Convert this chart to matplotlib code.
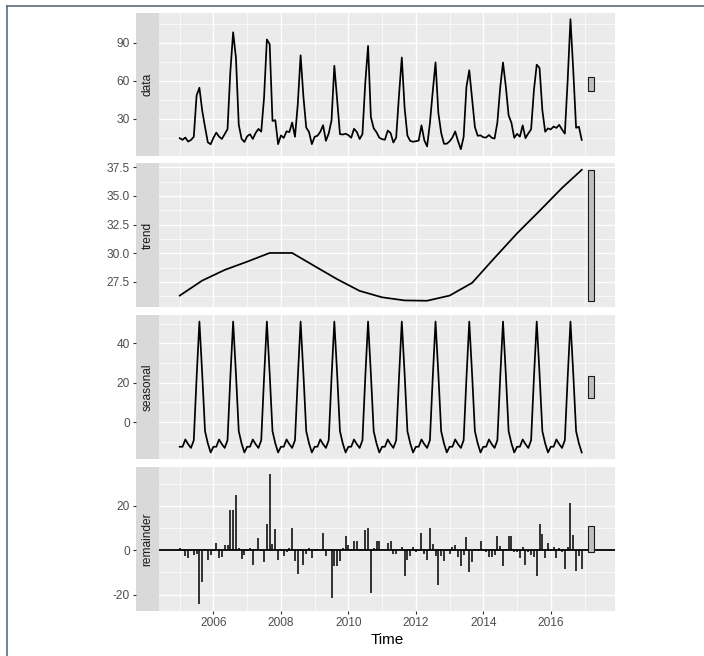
import matplotlib
matplotlib.use("Agg")
import matplotlib.pyplot as plt
import matplotlib.lines as mlines
import matplotlib.patches as mpatches
import numpy as np

# monthly series, Jan 2005 - Dec 2016
start_year = 2005
n_months = 144
time = start_year + np.arange(n_months) / 12

data_values = [
    14.8, 13.5, 15.3, 12.1, 13.4, 15.9, 48.5, 54.6, 36.5, 23.6, 11.5, 10.0,
    15.1, 19.2, 16.0, 14.2, 18.0, 21.9, 67.0, 98.4, 78.2, 25.4, 14.3, 11.8,
    16.3, 17.9, 14.2, 18.9, 22.1, 20.0, 46.8, 92.7, 89.0, 28.4, 29.0, 10.1,
    17.0, 15.0, 20.2, 19.6, 27.1, 15.9, 41.7, 80.2, 47.5, 23.2, 19.6, 10.1,
    15.9, 16.7, 19.8, 25.0, 12.7, 18.5, 28.8, 72.0, 45.2, 18.0, 17.7, 18.3,
    17.2, 15.1, 22.2, 19.7, 14.1, 18.0, 58.3, 87.6, 31.5, 22.6, 19.5, 15.2,
    14.0, 13.6, 20.8, 18.9, 11.4, 15.3, 48.5, 78.5, 38.6, 16.8, 12.6, 12.0,
    12.4, 12.9, 24.9, 13.2, 8.3, 26.7, 51.5, 74.6, 34.8, 19.0, 10.4, 10.4,
    12.3, 15.3, 20.1, 12.5, 6.1, 15.8, 55.4, 68.4, 46.4, 23.6, 16.7, 17.0,
    15.5, 15.3, 17.3, 15.1, 14.5, 27.2, 54.6, 74.5, 55.7, 32.8, 26.9, 15.1,
    18.2, 16.0, 24.9, 14.8, 18.6, 21.8, 52.7, 72.8, 70.2, 36.9, 19.9, 22.5,
    21.7, 24.0, 22.9, 25.3, 21.6, 18.4, 60.2, 108.7, 68.1, 23.0, 23.8, 13.4,
]

trend_times = [2005.0, 2005.667, 2006.333, 2007.0, 2007.667, 2008.333, 2009.0,
               2009.667, 2010.333, 2011.0, 2011.667, 2012.333, 2013.0, 2013.667,
               2014.333, 2015.0, 2015.667, 2016.333, 2016.917]
trend_values = [26.31, 27.62, 28.55, 29.27, 30.03, 30.03, 28.88,
                27.74, 26.72, 26.16, 25.89, 25.86, 26.31, 27.42,
                29.6, 31.74, 33.7, 35.7, 37.28]

# Jan..Dec seasonal effect, same every year
seasonal_pattern = [-12.5, -12.5, -8.8, -11.2, -13.1, -9.2, 22.5, 51.1, 24.5, -4.6, -10.8, -15.4]

remainder_values = [
    1.0, -0.5, -2.5, -3.5, -0.5, -2.0, -1.5, -24.3, -14.5, 0.5, -4.5, -2.0,
    -0.5, 3.5, -3.5, -3.0, 2.5, 2.5, 18.3, 18.0, 24.8, 1.0, -4.0, -2.0,
    -0.5, 1.0, -6.5, 0.5, 5.5, -0.5, -5.5, 11.7, 34.6, 3.0, 9.8, -4.5,
    -0.5, -2.5, -1.0, 0.8, 10.2, -4.8, -10.5, -0.5, -6.5, -1.5, 1.2, -3.5,
    -0.5, 0.5, 0.3, 7.7, -2.5, -0.5, -21.7, -7.0, -7.0, -5.0, 1.0, 6.3,
    2.5, 0.5, 4.0, 4.0, 0.5, 0.5, 9.2, 10.0, -19.4, 0.8, 4.0, 4.4,
    0.3, 0.0, 3.5, 4.0, -1.5, -1.5, 0.3, 1.5, -11.8, -4.5, -2.5, 1.5,
    -1.0, -0.5, 7.8, -1.5, -4.5, 10.0, 3.0, -2.5, -15.8, -2.5, -5.0, -0.5,
    -1.5, 1.3, 2.3, -3.0, -7.0, -2.0, 5.8, -10.0, -5.5, 0.5, -0.5, 4.2,
    -0.5, -1.0, -3.0, -3.0, -2.0, 6.5, 2.0, -7.0, 0.5, 6.5, 6.5, -1.0,
    -1.0, -3.5, 1.5, -6.5, -1.0, -2.0, -3.0, -11.8, 12.0, 7.5, -3.5, 3.5,
    -0.5, 1.5, -3.5, 1.0, -1.0, -8.3, 1.5, 21.5, 7.0, -9.2, -2.5, -8.5,
]

panel_names = ["data", "trend", "seasonal", "remainder"]
y_major = {
    "data": [30, 60, 90],
    "trend": [27.5, 30.0, 32.5, 35.0, 37.5],
    "seasonal": [0, 20, 40],
    "remainder": [-20, 0, 20],
}
y_minor = {
    "data": [15, 45, 75, 105],
    "trend": [26.25, 28.75, 31.25, 33.75, 36.25],
    "seasonal": [-10, 10, 30, 50],
    "remainder": [-10, 10, 30],
}
y_fmt = {"data": "{:.0f}", "trend": "{:.1f}", "seasonal": "{:.0f}", "remainder": "{:.0f}"}
x_major = [2006, 2008, 2010, 2012, 2014, 2016]
x_minor = [2005, 2007, 2009, 2011, 2013, 2015, 2017]

seasonal_values = np.tile(seasonal_pattern, n_months // 12)
series = {
    "data": (time, np.array(data_values)),
    "trend": (np.array(trend_times), np.array(trend_values)),
    "seasonal": (time, seasonal_values),
    "remainder": (time, np.array(remainder_values)),
}

# range bars, same length in every panel (shortest component range)
bar_len = min(np.ptp(v) for _, v in series.values())
bar_w = (time[-1] - time[0]) / 64
bar_left = time[-1] + bar_w
bar_right = time[-1] + 2 * bar_w
x_pad = 0.05 * (bar_right - time[0])
xlim = (time[0] - x_pad, bar_right + x_pad)

W, H = 704, 656
fig = plt.figure(figsize=(W / 100, H / 100), dpi=100)
plt.rcParams["font.family"] = ["Liberation Sans", "DejaVu Sans"]


def px_box(left, top, right, bottom):
    return [left / W, 1 - bottom / H, (right - left) / W, (bottom - top) / H]


panel_rows = [(12.7, 155.7), (163.3, 307.3), (315.0, 459.0), (467.0, 610.7)]
tick_len = 2.2
text_grey = "#4D4D4D"
small = 8.6

for k, name in enumerate(panel_names):
    top, bottom = panel_rows[k]
    ax = fig.add_axes(px_box(159, top, 615, bottom))
    strip = fig.add_axes(px_box(136, top, 159, bottom))
    x, y = series[name]

    ax.set_facecolor("#EBEBEB")
    for s in ax.spines.values():
        s.set_visible(False)
    for s in strip.spines.values():
        s.set_visible(False)

    if name == "remainder":
        ax.vlines(x, 0, y, color="black", linewidth=1.1)
        ax.axhline(0, color="black", linewidth=1.3)
    else:
        ax.plot(x, y, color="black", linewidth=1.25)

    mid = (y.max() + y.min()) / 2
    ax.add_patch(mpatches.Rectangle((bar_left, mid - bar_len / 2), bar_right - bar_left, bar_len,
                                    facecolor="#BFBFBF", edgecolor="#1A1A1A", linewidth=0.8, zorder=3))

    y_pad = 0.05 * np.ptp(y)
    ylim = (y.min() - y_pad, y.max() + y_pad)
    ax.set_xlim(xlim)
    ax.set_ylim(ylim)
    ax.set_xticks(x_major)
    ax.set_xticks(x_minor, minor=True)
    ax.set_yticks(y_major[name])
    ax.set_yticks(y_minor[name], minor=True)
    ax.grid(True, which="major", color="white", linewidth=1.0)
    ax.grid(True, which="minor", color="white", linewidth=0.5)
    ax.set_axisbelow(True)
    ax.tick_params(which="both", left=False, labelleft=False)
    if k == len(panel_names) - 1:
        ax.tick_params(axis="x", which="major", length=tick_len, width=0.8, color="#333333",
                       labelcolor=text_grey, labelsize=small, pad=2.4)
        ax.tick_params(axis="x", which="minor", length=0)
        ax.set_xticklabels([str(v) for v in x_major])
        ax.set_xlabel("Time", fontsize=11, color="black", labelpad=2.5)
    else:
        ax.tick_params(axis="x", which="both", bottom=False, labelbottom=False)

    # strip on the left with the y axis outside it
    strip.set_facecolor("#D9D9D9")
    strip.set_xlim(0, 1)
    strip.set_ylim(ylim)
    strip.set_xticks([])
    strip.set_yticks(y_major[name])
    strip.set_yticklabels([y_fmt[name].format(v) for v in y_major[name]])
    strip.tick_params(axis="y", length=tick_len, width=0.8, color="#333333",
                      labelcolor=text_grey, labelsize=small, pad=2.2)
    strip.text(0.5, 0.5, name, transform=strip.transAxes, rotation=90,
               ha="center", va="center", fontsize=small, color="#1A1A1A")

# outer frame (top and left edges)
frame_col = "#5B6B7B"
fig.add_artist(mlines.Line2D([6.5 / W, 1], [1 - 5.5 / H, 1 - 5.5 / H], color=frame_col, linewidth=1.2))
fig.add_artist(mlines.Line2D([6.5 / W, 6.5 / W], [0, 1 - 5.5 / H], color=frame_col, linewidth=1.2))

fig.savefig("out.png", dpi=100)
